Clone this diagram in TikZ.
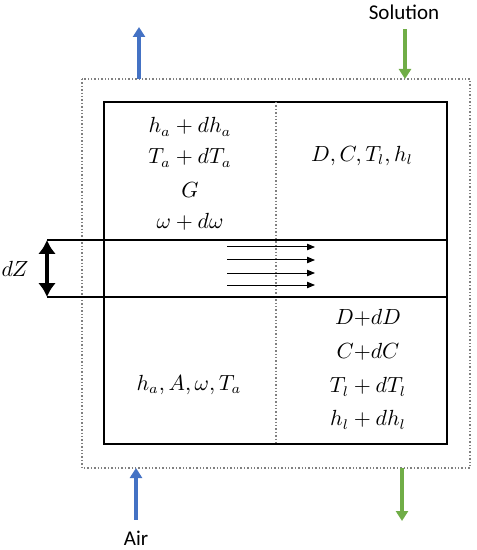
\documentclass[tikz,border=0pt]{standalone}
\usepackage{fontspec}
\newfontfamily\labelfont{Carlito}
\usetikzlibrary{arrows.meta}
\definecolor{airblue}{HTML}{4472C4}
\definecolor{solgreen}{HTML}{70AD47}
\tikzset{
  dotline/.style={densely dotted, gray, line width=0.7pt},
  airflow/.style={-{Triangle[length=5pt,width=6pt]}, airblue, line width=1.6pt},
  solflow/.style={-{Triangle[length=5pt,width=6pt]}, solgreen, line width=1.6pt},
  var/.style={inner sep=1pt, font=\fontsize{10.5}{12}\selectfont}
}

\begin{document}
\begin{tikzpicture}[x=0.5pt,y=-0.5pt]
  \useasboundingbox (0,0) rectangle (476,550);
  % outer control volume
  \draw[dotline] (82,79) rectangle (470,468);
  % column and divider
  \draw[line width=1pt] (104,102) rectangle (447,444);
  \draw[dotline] (276,102) -- (276,444);
  % element dZ
  \coordinate (bandtl) at (47,240); \coordinate (bandtr) at (447,240);
  \coordinate (bandbl) at (47,297); \coordinate (bandbr) at (447,297);
  \draw[line width=0.9pt] (bandtl) -- (bandtr);
  \draw[line width=0.9pt] (bandbl) -- (bandbr);
  \draw[{Latex[length=7pt,width=9pt]}-{Latex[length=7pt,width=9pt]},line width=2.4pt] (bandtl) -- (bandbl);
  \node[var] (dz) at (15,269) {$dZ$};
  % transfer arrows
  \foreach \y in {247,260,273,285}
    \draw[-{Triangle[length=4pt,width=3.2pt]},line width=0.5pt] (227,\y) -- (315,\y);
  % top cell
  \node[var] (hatop) at (190,127) {$h_a + dh_a$};
  \node[var] (tatop) at (190,158) {$T_a + dT_a$};
  \node[var] (gtop) at (190,190) {$G$};
  \node[var] (wtop) at (190,222) {$\omega + d\omega$};
  \node[var] (soltop) at (362,156) {$D, C, T_l, h_l$};
  % bottom cell
  \node[var] (airbot) at (189,385) {$h_a, A, \omega, T_a$};
  \node[var] (dbot) at (368,318) {$D{+}dD$};
  \node[var] (cbot) at (368,352) {$C{+}dC$};
  \node[var] (tlbot) at (368,387) {$T_l + dT_l$};
  \node[var] (hlbot) at (368,420) {$h_l + dh_l$};
  % streams
  \node[font=\labelfont\fontsize{10.5}{12}\selectfont] (sol) at (404,12) {Solution};
  \node[font=\labelfont\fontsize{10.5}{12}\selectfont] (air) at (136,538) {Air};
  \coordinate (airout) at (139,79); \coordinate (airtip) at (139,27);
  \coordinate (solin) at (405,79);
  \coordinate (airin) at (136,468); \coordinate (solout) at (402,468);
  \coordinate (soltip) at (402,521);
  \draw[airflow] (airout) -- (airtip);
  \draw[solflow] (sol.south -| solin) ++(0,3) -- (solin);
  \draw[airflow] (air.north -| airin) ++(0,-4) -- (airin);
  \draw[solflow] (solout) -- (soltip);
\end{tikzpicture}
\end{document}
